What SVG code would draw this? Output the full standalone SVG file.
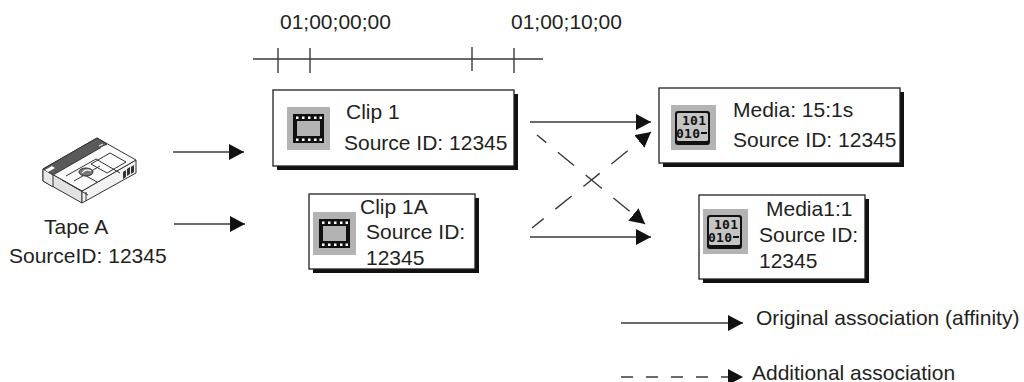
<svg xmlns="http://www.w3.org/2000/svg" width="1024" height="382" viewBox="0 0 1024 382">
  <style>
    .lbl { font-family: "Liberation Sans", Arial, sans-serif; font-size: 21px; fill: #231f20; }
    .box { fill: #ffffff; stroke: #231f20; stroke-width: 1.3; }
    .shadow { fill: #111111; }
    .ln { fill: none; stroke: #3a3a3a; stroke-width: 1.4; }
    .dash { stroke-dasharray: 21 15; }
    .tick { fill: none; stroke: #3a3a3a; stroke-width: 1.4; }
    .bin { font-family: "DejaVu Sans Mono", "Liberation Mono", monospace; font-size: 13px; font-weight: bold; fill: #111; }
    .tape { stroke: #333; stroke-width: 1; stroke-linejoin: round; }
  </style>
  <defs>
    <marker id="arrow" markerUnits="userSpaceOnUse" markerWidth="16" markerHeight="16" refX="15" refY="8" orient="auto">
      <path d="M0,0 L15,8 L0,16 Z" fill="#111"/>
    </marker>
    <!-- film-strip clip icon, 43x43 -->
    <g id="filmIcon">
      <rect x="0" y="0" width="43" height="43" fill="#b3b3b3"/>
      <rect x="6" y="7" width="31" height="7" fill="#111"/>
      <rect x="6" y="29" width="31" height="7" fill="#111"/>
      <rect x="6" y="14" width="4" height="15" fill="#111"/>
      <rect x="33" y="14" width="4" height="15" fill="#111"/>
      <g fill="#fff">
        <rect x="9" y="9.5" width="2.5" height="2.5"/>
        <rect x="15" y="9.5" width="2.5" height="2.5"/>
        <rect x="21" y="9.5" width="2.5" height="2.5"/>
        <rect x="27" y="9.5" width="2.5" height="2.5"/>
        <rect x="32.5" y="9.5" width="2.5" height="2.5"/>
        <rect x="9" y="31.5" width="2.5" height="2.5"/>
        <rect x="15" y="31.5" width="2.5" height="2.5"/>
        <rect x="21" y="31.5" width="2.5" height="2.5"/>
        <rect x="27" y="31.5" width="2.5" height="2.5"/>
        <rect x="32.5" y="31.5" width="2.5" height="2.5"/>
      </g>
    </g>
    <!-- binary media icon, 45x45 -->
    <g id="mediaIcon">
      <rect x="0" y="0" width="45" height="45" fill="#b3b3b3"/>
      <rect x="4" y="6" width="35" height="34" rx="3" fill="#111"/>
      <rect x="6" y="8" width="31" height="28" rx="1.5" fill="#c4c4c4"/>
      <text class="bin" x="11" y="20" textLength="24">101</text>
      <text class="bin" x="5" y="33" textLength="24">010</text>
      <rect x="30" y="27" width="6" height="2" fill="#111"/>
    </g>
  </defs>

  <!-- timecode ruler -->
  <g id="timeline">
    <text class="lbl" x="280" y="29">01;00;00;00</text>
    <text class="lbl" x="511" y="29">01;00;10;00</text>
    <line class="tick" x1="253" y1="59" x2="543" y2="59"/>
    <line class="tick" x1="278" y1="48" x2="278" y2="73"/>
    <line class="tick" x1="310" y1="48" x2="310" y2="73"/>
    <line class="tick" x1="472" y1="47" x2="472" y2="71"/>
    <line class="tick" x1="514" y1="48" x2="514" y2="73"/>
  </g>

  <!-- source tape -->
  <g id="tapeA">
    <polygon class="tape" points="43,169 82,191 82,203 43,181" fill="#e2e2e2"/>
    <polygon class="tape" points="82,191 136,160 136,173 82,203" fill="#f2f2f2"/>
    <polygon class="tape" points="43,169 97,138 136,160 82,191" fill="#fafafa"/>
    <polygon class="tape" points="43,169 97,138 107,144 53,175" fill="#5a5a5a"/>
    <polygon class="tape" points="43,169 53,175 53,187 43,181" fill="#e8e8e8"/>
    <polygon points="45,170 52,166 55,168 48,172" fill="#ffffff"/>
    <path d="M99,146 l4,-2 M101,148 l4,-2" stroke="#fff" stroke-width="1"/>
    <polygon class="tape" points="91,164 110,153 126,162 107,173" fill="#ffffff"/>
    <polyline class="tape" points="62,180 88,195" fill="none"/>
    <polyline class="tape" points="66,176 96,159 120,173" fill="none"/>
    <polyline class="tape" points="74,181 100,166" fill="none"/>
    <polyline class="tape" points="79,172 97,182" fill="none"/>
    <polyline class="tape" points="86,192 86,201" fill="none"/>
    <ellipse cx="86" cy="172" rx="7" ry="4" fill="#777" stroke="#333" stroke-width="1"/>
    <path d="M82,173 q4,-5 9,-2" stroke="#fff" stroke-width="1.2" fill="none"/>
    <g fill="#333">
      <polygon points="123,172 126,170 126,177 123,179"/>
      <polygon points="127,169 130,167 130,174 127,176"/>
      <polygon points="131,167 134,165 134,172 131,174"/>
    </g>
    <text class="lbl" x="44" y="234">Tape A</text>
    <text class="lbl" x="9" y="263">SourceID: 12345</text>
  </g>

  <!-- clips -->
  <g id="clip1">
    <rect class="shadow" x="277" y="94" width="241" height="76"/>
    <rect class="box" x="273" y="90" width="241" height="76"/>
    <use href="#filmIcon" x="287" y="107"/>
    <text class="lbl" x="346" y="119">Clip 1</text>
    <text class="lbl" x="344" y="150">Source ID: 12345</text>
  </g>
  <g id="clip1A">
    <rect class="shadow" x="313" y="198" width="166" height="75"/>
    <rect class="box" x="309" y="194" width="166" height="75"/>
    <use href="#filmIcon" x="313" y="212"/>
    <text class="lbl" x="360" y="214">Clip 1A</text>
    <text class="lbl" x="366" y="239">Source ID:</text>
    <text class="lbl" x="366" y="265">12345</text>
  </g>

  <!-- media files -->
  <g id="media15">
    <rect class="shadow" x="663" y="92" width="241" height="75"/>
    <rect class="box" x="659" y="88" width="241" height="75"/>
    <use href="#mediaIcon" x="671" y="105"/>
    <text class="lbl" x="733" y="117">Media: 15:1s</text>
    <text class="lbl" x="733" y="147">Source ID: 12345</text>
  </g>
  <g id="media11">
    <rect class="shadow" x="703" y="199" width="166" height="84"/>
    <rect class="box" x="699" y="195" width="166" height="84"/>
    <use href="#mediaIcon" x="703" y="209"/>
    <text class="lbl" x="766" y="216">Media1:1</text>
    <text class="lbl" x="759" y="242">Source ID:</text>
    <text class="lbl" x="759" y="268">12345</text>
  </g>

  <!-- associations -->
  <g id="connectors">
    <line class="ln" x1="173" y1="152" x2="244" y2="152" marker-end="url(#arrow)"/>
    <line class="ln" x1="174" y1="224" x2="245" y2="224" marker-end="url(#arrow)"/>
    <line class="ln" x1="530" y1="122" x2="651" y2="122" marker-end="url(#arrow)"/>
    <line class="ln" x1="530" y1="237" x2="651" y2="237" marker-end="url(#arrow)"/>
    <line class="ln dash" x1="537" y1="135" x2="645" y2="224" stroke-dashoffset="9" marker-end="url(#arrow)"/>
    <line class="ln dash" x1="532" y1="228" x2="651" y2="132" stroke-dashoffset="6" marker-end="url(#arrow)"/>
  </g>

  <!-- legend -->
  <g id="legend">
    <line class="ln" x1="621" y1="323" x2="743" y2="323" marker-end="url(#arrow)"/>
    <text class="lbl" x="756" y="325">Original association (affinity)</text>
    <line class="ln" x1="621" y1="377" x2="743" y2="377" stroke-dasharray="12 13" marker-end="url(#arrow)"/>
    <text class="lbl" x="752" y="380">Additional association</text>
  </g>
</svg>
